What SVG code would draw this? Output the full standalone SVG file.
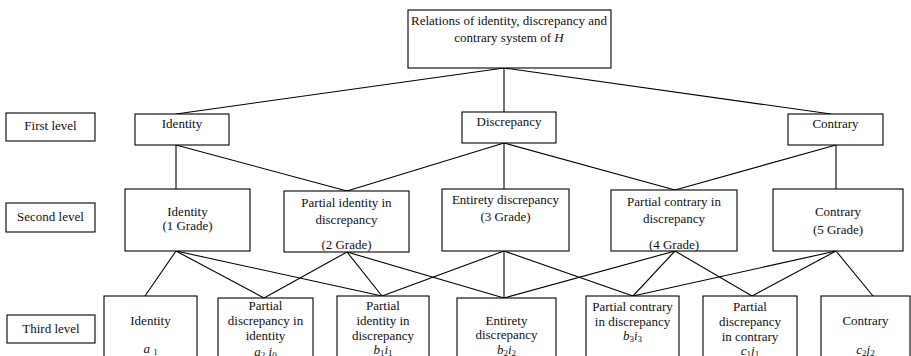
<svg xmlns="http://www.w3.org/2000/svg" width="911" height="356" viewBox="0 0 911 356">
<style>
rect{fill:#fff;stroke:#000;stroke-width:1.1}
text{font-family:'Liberation Serif','Times New Roman','DejaVu Serif',serif;font-size:13px;fill:#111;text-anchor:middle}
.c line{stroke:#000;stroke-width:1.1}
.i{font-style:italic}
.s{font-size:9px;font-style:normal}
</style>
<rect x="0" y="0" width="911" height="356" style="stroke:none"/>
<g class="c" id="connectors">
<line x1="504" y1="68" x2="176" y2="114"/>
<line x1="504" y1="68" x2="504" y2="112"/>
<line x1="504" y1="68" x2="831" y2="114"/>
<line x1="176" y1="145" x2="176" y2="189"/>
<line x1="176" y1="145" x2="347" y2="191"/>
<line x1="504" y1="143" x2="347" y2="191"/>
<line x1="504" y1="143" x2="504" y2="189"/>
<line x1="504" y1="143" x2="675" y2="190"/>
<line x1="836" y1="145" x2="675" y2="190"/>
<line x1="836" y1="145" x2="836" y2="189"/>
<line x1="176" y1="251" x2="145" y2="296"/>
<line x1="176" y1="251" x2="264" y2="298"/>
<line x1="176" y1="251" x2="382" y2="296"/>
<line x1="347" y1="252" x2="264" y2="298"/>
<line x1="347" y1="252" x2="382" y2="296"/>
<line x1="347" y1="252" x2="504" y2="298"/>
<line x1="504" y1="251" x2="382" y2="296"/>
<line x1="504" y1="251" x2="504" y2="298"/>
<line x1="504" y1="251" x2="633" y2="296"/>
<line x1="675" y1="251" x2="504" y2="298"/>
<line x1="675" y1="251" x2="633" y2="296"/>
<line x1="675" y1="251" x2="752" y2="296"/>
<line x1="836" y1="251" x2="633" y2="296"/>
<line x1="836" y1="251" x2="752" y2="296"/>
<line x1="836" y1="251" x2="873" y2="296"/>
</g>
<g id="root"><rect x="408" y="10" width="203" height="58"/>
<text x="509" y="25">Relations of identity, discrepancy and</text>
<text x="509" y="42">contrary system of <tspan class="i">H</tspan></text></g>
<g id="lbl1"><rect x="6" y="113" width="89" height="28"/><text x="50.5" y="129.5">First level</text></g>
<g id="lbl2"><rect x="6" y="203" width="89" height="29"/><text x="50.5" y="220.5">Second level</text></g>
<g id="lbl3"><rect x="7" y="315" width="88" height="28"/><text x="51" y="332.5">Third level</text></g>
<g id="f1"><rect x="135" y="114" width="94" height="31"/><text x="182" y="128">Identity</text></g>
<g id="f2"><rect x="462" y="112" width="94" height="31"/><text x="509" y="126">Discrepancy</text></g>
<g id="f3"><rect x="788" y="114" width="95" height="31"/><text x="835.5" y="127.5">Contrary</text></g>
<g id="s1"><rect x="125" y="189" width="125" height="62"/><text x="187.5" y="215.5">Identity</text><text x="187.5" y="230">(1 Grade)</text></g>
<g id="s2"><rect x="284" y="191" width="125" height="61"/><text x="346.5" y="206.5">Partial identity in</text><text x="346.5" y="224">discrepancy</text><text x="346.5" y="249">(2 Grade)</text></g>
<g id="s3"><rect x="442" y="189" width="127" height="62"/><text x="505.5" y="204">Entirety discrepancy</text><text x="505.5" y="221">(3 Grade)</text></g>
<g id="s4"><rect x="611" y="190" width="126" height="61"/><text x="674" y="206">Partial contrary in</text><text x="674" y="222.5">discrepancy</text><text x="674" y="249">(4 Grade)</text></g>
<g id="s5"><rect x="773" y="189" width="130" height="62"/><text x="838" y="215.5">Contrary</text><text x="838" y="234">(5 Grade)</text></g>
<g id="t1"><rect x="104" y="296" width="93" height="80"/><text x="150.5" y="324.5">Identity</text><text x="150.5" y="353" class="i">a <tspan class="s" dy="2">1</tspan></text></g>
<g id="t2"><rect x="218" y="298" width="95" height="80"/><text x="265.5" y="309.5">Partial</text><text x="265.5" y="324.5">discrepancy in</text><text x="265.5" y="339.5">identity</text><text x="265.5" y="356" class="i">a<tspan class="s" dy="2">2</tspan><tspan dy="-2"> i</tspan><tspan class="s" dy="2">0</tspan></text></g>
<g id="t3"><rect x="337" y="296" width="92" height="80"/><text x="383" y="309.5">Partial</text><text x="383" y="324.5">identity in</text><text x="383" y="339.5">discrepancy</text><text x="383" y="353.5" class="i">b<tspan class="s" dy="2">1</tspan><tspan dy="-2">i</tspan><tspan class="s" dy="2">1</tspan></text></g>
<g id="t4"><rect x="457" y="298" width="99" height="80"/><text x="506.5" y="324.5">Entirety</text><text x="506.5" y="338.5">discrepancy</text><text x="506.5" y="353.5" class="i">b<tspan class="s" dy="2">2</tspan><tspan dy="-2">i</tspan><tspan class="s" dy="2">2</tspan></text></g>
<g id="t5"><rect x="586" y="296" width="93" height="80"/><text x="632.5" y="311">Partial contrary</text><text x="632.5" y="326">in discrepancy</text><text x="632.5" y="340" class="i">b<tspan class="s" dy="2">3</tspan><tspan dy="-2">i</tspan><tspan class="s" dy="2">3</tspan></text></g>
<g id="t6"><rect x="703" y="296" width="94" height="80"/><text x="750" y="310.5">Partial</text><text x="750" y="325.5">discrepancy</text><text x="750" y="340.5">in contrary</text><text x="750" y="355" class="i">c<tspan class="s" dy="2">1</tspan><tspan dy="-2">j</tspan><tspan class="s" dy="2">1</tspan></text></g>
<g id="t7"><rect x="821" y="296" width="89" height="80"/><text x="865.5" y="324.5">Contrary</text><text x="865.5" y="353.5" class="i">c<tspan class="s" dy="2">2</tspan><tspan dy="-2">j</tspan><tspan class="s" dy="2">2</tspan></text></g>
</svg>
